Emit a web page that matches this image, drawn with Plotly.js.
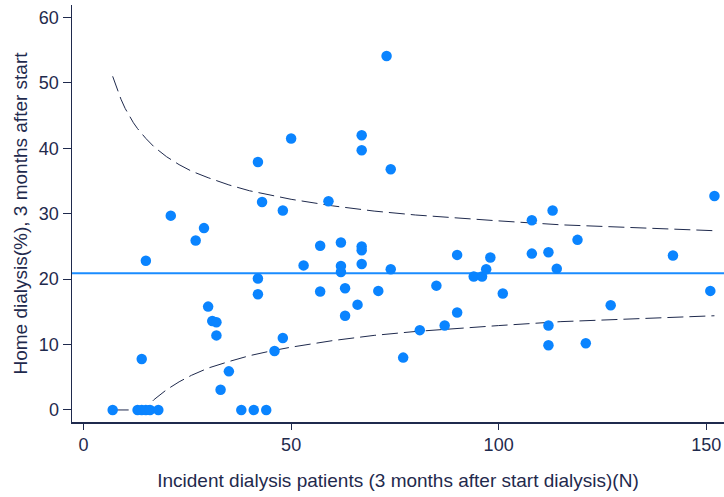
<!DOCTYPE html>
<html>
<head>
<meta charset="utf-8">
<script src="https://cdn.plot.ly/plotly-3.0.1.min.js"></script>
<style>html,body{margin:0;padding:0;background:#fff;}#chart{width:724px;height:497px;}</style>
</head>
<body>
<div id="chart"></div>
<script>
// Units: incident dialysis patients (N) and home dialysis share (%)
const unitN = [7,13,14,15,16,18,14,15,21,27,29,30,31,32,32,33,35,38,41,44,
  42,42,42,43,46,48,48,50,53,57,57,59,62,62,62,63,63,66,67,67,
  67,67,67,71,73,74,74,77,81,85,87,90,90,94,96,97,98,101,108,108,
  112,112,112,113,114,119,121,127,142,151,152];
const unitPct = [0,0,0,0,0,0,7.8,22.8,29.7,25.9,27.8,15.8,13.6,13.4,11.4,3.1,5.9,0,0,0,
  37.9,20.1,17.7,31.8,9.0,30.5,11.0,41.5,22.1,25.1,18.1,31.9,25.6,22.0,21.1,18.6,14.4,16.1,42.0,39.7,
  25.0,24.4,22.3,18.2,54.1,36.8,21.5,8.0,12.2,19.0,12.9,23.7,14.9,20.4,20.4,21.5,23.3,17.8,29.0,23.9,
  24.1,12.9,9.9,30.5,21.6,26.0,10.2,16.0,23.6,18.2,32.7];
const meanPct = 20.9;
// Funnel limits
const upperN = [7,8,9,10,11,12,13,14,15,17,20,23,26,30,35,40,45,50,60,70,80,90,100,115,130,152];
const upperPct = [51.0,49.1,47.5,46.1,44.9,43.9,43.0,42.2,41.5,40.2,38.7,37.5,36.5,35.5,34.4,33.5,32.8,32.2,31.2,30.4,29.8,29.3,28.9,28.3,27.9,27.4];
const lowerN = [7,10,14.5,15,17,20,23,26,30,35,40,45,50,60,70,80,90,100,115,130,152];
const lowerPct = [0,0,0,0.3,1.6,3.1,4.3,5.3,6.4,7.4,8.3,9.0,9.6,10.6,11.4,12.0,12.5,12.9,13.5,13.9,14.4];
const xTicks = [0,50,100,150];
const yTicks = [0,10,20,30,40,50,60];

const navy = '#1f2a4d';
const traces = [
  {x: upperN, y: upperPct, mode: 'lines', line: {color: navy, width: 1, dash: '16px,6px'}, hoverinfo: 'skip'},
  {x: lowerN, y: lowerPct, mode: 'lines', line: {color: navy, width: 1, dash: '16px,6px'}, hoverinfo: 'skip'},
  {x: unitN, y: unitPct, mode: 'markers', marker: {color: '#0a84ff', size: 10.5}}
];
const layout = {
  width: 724, height: 497,
  margin: {l: 72, r: 0, t: 5, b: 75},
  paper_bgcolor: '#fff', plot_bgcolor: '#fff',
  showlegend: false,
  font: {family: 'Liberation Sans, Arial, sans-serif', color: navy, size: 18},
  xaxis: {
    range: [-2.8, 154.3], tickvals: xTicks, ticktext: xTicks.map(String),
    showgrid: false, zeroline: false, showline: true, linecolor: navy, linewidth: 1.5,
    ticks: 'outside', ticklen: 6, tickcolor: navy, tickfont: {size: 18, color: navy},
    title: {text: 'Incident dialysis patients (3 months after start dialysis)(N)', font: {size: 19, color: navy}, standoff: 19}
  },
  yaxis: {
    range: [-1.84, 61.9], tickvals: yTicks, ticktext: yTicks.map(String),
    showgrid: false, zeroline: false, showline: true, linecolor: navy, linewidth: 1.5,
    ticks: 'outside', ticklen: 8, tickcolor: navy, tickfont: {size: 18, color: navy},
    title: {text: 'Home dialysis(%), 3 months after start', font: {size: 19, color: navy}, standoff: 6}
  },
  shapes: [{type: 'line', xref: 'paper', x0: 0, x1: 1, yref: 'y', y0: meanPct, y1: meanPct,
    line: {color: '#1a8cff', width: 2}, layer: 'below'}]
};
Plotly.newPlot('chart', traces, layout, {staticPlot: true, displayModeBar: false});
</script>
</body>
</html>
